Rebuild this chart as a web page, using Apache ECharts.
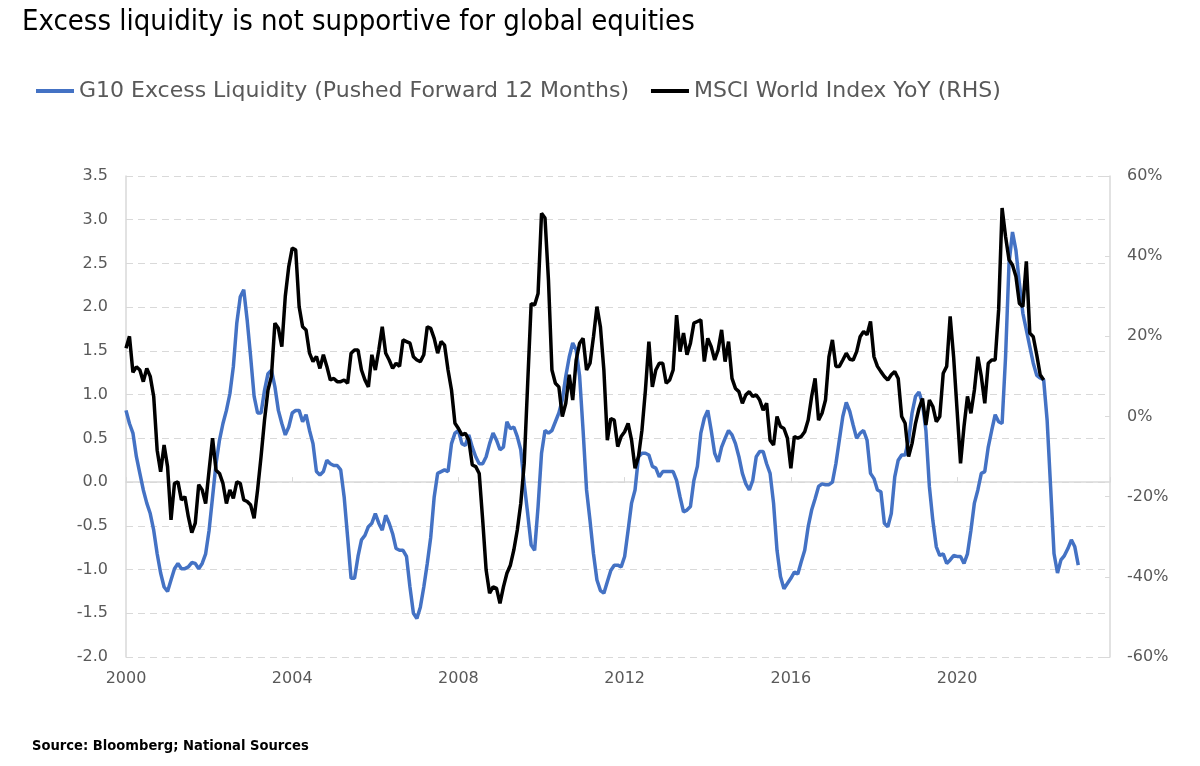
<!DOCTYPE html>
<html><head><meta charset="utf-8">
<script src="https://cdn.jsdelivr.net/npm/echarts@6/dist/echarts.min.js"></script>
<style>html,body{margin:0;padding:0;background:#fff}#c{width:1200px;height:766px}</style>
</head><body><div id="c"></div>
<script>
// ---- data (monthly, starting January 2000) ----
const startYear = 2000;
const seriesNames = ['G10 Excess Liquidity (Pushed Forward 12 Months)', 'MSCI World Index YoY (RHS)'];
const liquidity = [
 0.82,0.67,0.56,0.29,0.10,-0.09,-0.24,-0.36,-0.55,-0.82,
 -1.04,-1.20,-1.25,-1.12,-0.99,-0.93,-0.99,-0.99,-0.97,-0.92,
 -0.93,-0.99,-0.93,-0.82,-0.55,-0.17,0.21,0.48,0.67,0.82,
 1.01,1.32,1.82,2.12,2.20,1.85,1.43,0.98,0.79,0.79,
 1.05,1.24,1.28,1.09,0.82,0.67,0.54,0.63,0.79,0.82,
 0.82,0.69,0.77,0.59,0.44,0.12,0.08,0.12,0.25,0.21,
 0.19,0.19,0.14,-0.17,-0.63,-1.10,-1.10,-0.85,-0.66,-0.61,
 -0.51,-0.47,-0.36,-0.47,-0.55,-0.38,-0.47,-0.59,-0.76,-0.78,
 -0.78,-0.85,-1.20,-1.50,-1.56,-1.43,-1.20,-0.93,-0.63,-0.17,
 0.10,0.12,0.14,0.12,0.44,0.56,0.59,0.44,0.42,0.54,
 0.40,0.29,0.21,0.21,0.29,0.44,0.56,0.48,0.37,0.40,
 0.69,0.61,0.63,0.52,0.37,-0.02,-0.36,-0.72,-0.78,-0.28,
 0.33,0.59,0.56,0.59,0.69,0.79,0.94,1.21,1.43,1.59,
 1.51,1.21,0.59,-0.09,-0.44,-0.82,-1.12,-1.24,-1.27,-1.14,
 -1.01,-0.95,-0.95,-0.97,-0.85,-0.55,-0.24,-0.09,0.29,0.33,
 0.33,0.31,0.18,0.16,0.06,0.12,0.12,0.12,0.12,0.02,
 -0.17,-0.34,-0.32,-0.28,0.02,0.18,0.56,0.73,0.82,0.59,
 0.33,0.23,0.40,0.50,0.59,0.54,0.44,0.29,0.10,-0.02,
 -0.09,0.02,0.29,0.35,0.35,0.21,0.10,-0.24,-0.78,-1.08,
 -1.22,-1.16,-1.10,-1.03,-1.05,-0.91,-0.78,-0.51,-0.32,-0.19,
 -0.05,-0.02,-0.03,-0.03,0.00,0.21,0.48,0.75,0.91,0.81,
 0.65,0.50,0.56,0.59,0.48,0.10,0.04,-0.09,-0.11,-0.47,
 -0.51,-0.36,0.06,0.25,0.31,0.31,0.48,0.79,0.98,1.03,
 0.90,0.59,-0.05,-0.44,-0.74,-0.84,-0.82,-0.93,-0.89,-0.84,
 -0.85,-0.85,-0.93,-0.82,-0.55,-0.24,-0.09,0.10,0.12,0.40,
 0.59,0.77,0.69,0.67,1.43,2.50,2.86,2.65,2.27,1.93,
 1.74,1.55,1.36,1.22,1.19,1.17,0.71,-0.05,-0.82,-1.04,
 -0.89,-0.84,-0.76,-0.66,-0.74,-0.95
];
const msciYoY = [
 17,20,11,12.4,11.6,8.7,12,10,5,-8.4,
 -13.8,-7.1,-12.5,-25.8,-16.7,-16.3,-20.8,-20,-25,-29,
 -26.6,-17,-18.3,-21.7,-13.4,-5.4,-13.4,-14.2,-16.7,-21.7,
 -18.3,-20.4,-16.3,-16.7,-20.8,-21.2,-22.1,-25.4,-18.3,-10,
 -0.9,6.6,10,23.3,22,17.4,30,37.4,42,41.6,
 27.4,22.4,21.6,15.8,13.7,15,12,15.4,12.5,9.1,
 9.5,8.7,8.7,9.1,8.3,15.8,16.6,16.6,11.6,9.1,
 7.4,15.4,11.6,16.6,22.4,15.8,14.1,12,13.3,12.5,
 19.1,18.7,18.3,14.9,14.1,13.7,15.4,22.4,22,19.5,
 15.8,18.7,17.8,11.6,6.6,-1.7,-3,-4.6,-4.2,-5.9,
 -12.1,-12.5,-14.2,-25.8,-38.3,-44.1,-42.5,-42.9,-46.6,-42.5,
 -39.1,-37.1,-33.3,-28.3,-21.7,-11.7,8.3,28.2,27.8,30.7,
 50.7,49.5,34,11.6,8.3,7.4,0,3.3,10.4,4.1,
 14.1,18.3,19.5,11.6,13.3,19.9,27.4,22.4,11.6,-5.9,
 -0.5,-0.9,-7.5,-5,-3.8,-1.7,-5.9,-12.9,-10,-3.4,
 6.6,18.7,7.4,11.6,13.3,13.3,8.3,9.1,11.6,25.3,
 16.2,20.8,15.4,18.3,23.3,23.7,24.1,13.7,19.5,17.4,
 14.1,16.6,21.6,13.7,18.7,9.5,7,6.2,3.3,5.4,
 6.2,5,5.4,4.1,1.6,3.3,-5.9,-7.1,0,-2.5,
 -3,-5.4,-12.9,-5,-5.4,-5,-3.8,-0.9,5,9.5,
 -0.9,0.8,4.1,14.9,19.1,12.5,12.5,14.1,15.8,14.3,
 14.1,16.2,19.9,21.2,20.4,23.7,14.9,12.5,11.2,10,
 9.1,10.4,11.2,9.5,0,-1.7,-10,-6.7,-1.7,2,
 4.5,-2.1,4.1,2.5,-1.3,0,10.8,12.5,25,14.9,
 1.6,-11.7,-2.5,5,0.8,6.6,14.9,10,3.3,13.3,
 14.1,14.1,26.6,52,44.9,39.1,37.8,34.9,28.2,27.4,
 38.7,20.8,19.9,15.4,10.4,9.1
];
const xTickYears = [2000, 2004, 2008, 2012, 2016, 2020];
const leftTicks = [-2.0, -1.5, -1.0, -0.5, 0.0, 0.5, 1.0, 1.5, 2.0, 2.5, 3.0, 3.5];
const rightTicks = [-60, -40, -20, 0, 20, 40, 60];

// ---- build ----
const toPairs = arr => arr.map((v, i) => [startYear + i / 12, v]);
const axisFont = 'DejaVu Sans';
const grey = '#595959';
const gridCol = '#d9d9d9';

const chart = echarts.init(document.getElementById('c'), null, {renderer: 'canvas'});
const xCommon = {
  type: 'value', min: xTickYears[0], max: 2023.68, interval: 4, gridIndex: 0
};
chart.setOption({
  animation: false,
  backgroundColor: '#fff',
  title: [
    {text: 'Excess liquidity is not supportive for global equities', left: 17, top: 3,
     textStyle: {fontFamily: 'Liberation Sans Narrow, DejaVu Sans Condensed', fontSize: 29, fontWeight: 'normal', color: '#000'}},
    {text: 'Source: Bloomberg; National Sources', left: 27, top: 734,
     textStyle: {fontFamily: 'DejaVu Sans Condensed', fontSize: 14.6, fontWeight: 'bold', color: '#000'}}
  ],
  legend: {
    left: 31, top: 75, itemWidth: 38, itemHeight: 4, itemGap: 22, icon: 'rect',
    textStyle: {fontFamily: axisFont, fontSize: 22, color: grey},
    data: seriesNames
  },
  grid: {left: 126, right: 90, top: 176, bottom: 109, containLabel: false},
  xAxis: [
    Object.assign({}, xCommon, {
      position: 'bottom',
      axisLine: {show: false}, axisTick: {show: false}, splitLine: {show: false},
      axisLabel: {margin: 14, fontFamily: axisFont, fontSize: 16, color: grey, showMaxLabel: false,
        formatter: v => xTickYears.includes(Math.round(v)) && Math.abs(v - Math.round(v)) < 1e-6 ? String(Math.round(v)) : ''}
    }),
    Object.assign({}, xCommon, {
      position: 'bottom',
      axisLine: {show: true, onZero: true, onZeroAxisIndex: 0, lineStyle: {color: gridCol, width: 1.5}},
      axisTick: {show: true, inside: true, length: 5, lineStyle: {color: gridCol}},
      axisLabel: {show: false}, splitLine: {show: false}
    })
  ],
  yAxis: [
    {type: 'value', position: 'left', min: leftTicks[0], max: leftTicks[leftTicks.length - 1], interval: 0.5,
     axisLine: {show: true, lineStyle: {color: gridCol, width: 1.5}}, axisTick: {show: false},
     axisLabel: {margin: 18, fontFamily: axisFont, fontSize: 16, color: grey, formatter: v => v.toFixed(1)},
     splitLine: {show: true, lineStyle: {color: gridCol, type: [7, 5], width: 1.2}}},
    {type: 'value', position: 'right', min: rightTicks[0], max: rightTicks[rightTicks.length - 1], interval: 20,
     axisLine: {show: true, lineStyle: {color: gridCol, width: 1.5}},
     axisTick: {show: true, inside: true, length: 5, lineStyle: {color: gridCol}},
     axisLabel: {margin: 17, fontFamily: axisFont, fontSize: 16, color: grey, formatter: v => v + '%'},
     splitLine: {show: false}}
  ],
  series: [
    {name: seriesNames[0], type: 'line', xAxisIndex: 0, yAxisIndex: 0, data: toPairs(liquidity),
     showSymbol: false, symbol: 'none', color: '#4472C4', lineStyle: {width: 3.5, color: '#4472C4'}},
    {name: seriesNames[1], type: 'line', xAxisIndex: 0, yAxisIndex: 1, data: toPairs(msciYoY),
     showSymbol: false, symbol: 'none', color: '#000', lineStyle: {width: 3.5, color: '#000'}}
  ]
});
</script></body></html>
